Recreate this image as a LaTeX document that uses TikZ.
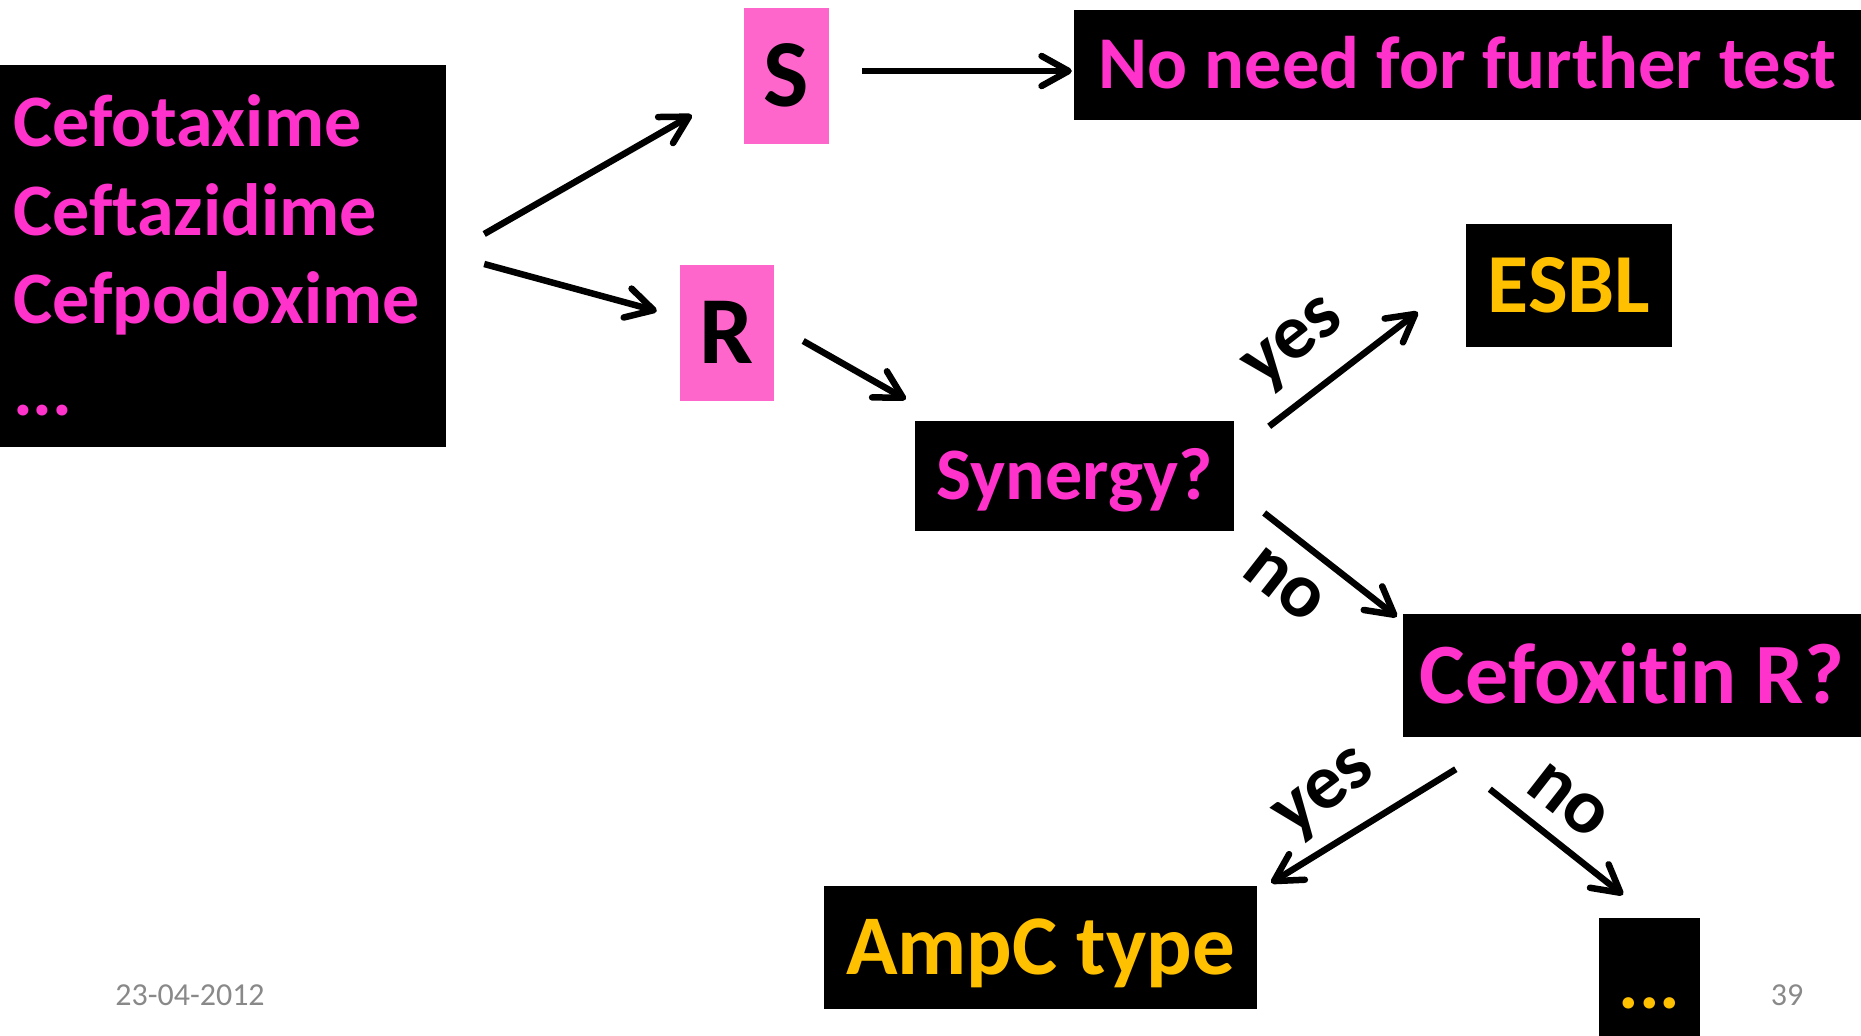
\documentclass[tikz,border=0pt]{standalone}
\usepackage{fontspec}
\setmainfont{Carlito}[Ligatures=NoCommon]
\usetikzlibrary{arrows.meta,calc}
\definecolor{mag}{HTML}{FF33CC}
\definecolor{pinkfill}{HTML}{FF66CC}
\definecolor{gold}{HTML}{FFC000}
\definecolor{foot}{HTML}{898989}
\tikzset{
  blackbox/.style={fill=black, inner sep=0pt, text depth=0pt},
  pinkbox/.style={fill=pinkfill, inner sep=0pt, text depth=0pt, text=black, font=\bfseries\fontsize{96}{100}\selectfont, text height=61pt},
  listline/.style={anchor=base west, inner sep=0pt, text=mag, font=\bfseries\fontsize{74}{80}\selectfont},
  arr/.style={line width=6.5pt, -{Straight Barb[length=27pt,width=30pt,round]}},
  lbl/.style={font=\bfseries\fontsize{78}{80}\selectfont, inner sep=0pt},
  footer/.style={text=foot, font=\fontsize{32}{34}\selectfont, inner sep=0pt}
}
\begin{document}
\begin{tikzpicture}[x=1pt,y=-1pt]
\useasboundingbox (0,0) rectangle (1861,1036);
% boxes
\node[blackbox, minimum width=446pt, minimum height=382pt] (main) at (223,256) {};
\node[listline] (l1) at (13,146) {Cefotaxime};
\node[listline] (l2) at (13,235) {Ceftazidime};
\node[listline] (l3) at (13,323) {Cefpodoxime};
\node[listline] (l4) at (13,415) {...};

\node[pinkbox, minimum width=85pt, minimum height=136pt] (S) at (786.5,76) {S};
\node[pinkbox, minimum width=94pt, minimum height=136pt] (R) at (727,333) {R};

\node[blackbox, text=mag, font=\bfseries\fontsize{74.5}{80}\selectfont, text height=47pt, minimum width=787pt, minimum height=110pt] (noneed) at (1467.5,65) {No need for further test};
\node[blackbox, text=mag, font=\bfseries\fontsize{74}{80}\selectfont, text height=47pt, minimum width=319pt, minimum height=110pt] (syn) at (1074.5,475.5) {Synergy?};
\node[blackbox, text=gold, font=\bfseries\fontsize{84}{88}\selectfont, text height=53pt, minimum width=206pt, minimum height=123pt] (esbl) at (1569,285.5) {ESBL};
\node[blackbox, text=mag, font=\bfseries\fontsize{86}{90}\selectfont, text height=55pt, minimum width=458pt, minimum height=123pt] (cefox) at (1632,675.5) {Cefoxitin R?};
\node[blackbox, text=gold, font=\bfseries\fontsize{85}{88}\selectfont, text height=54pt, minimum width=433pt, minimum height=123pt] (ampc) at (1040.5,947.5) {AmpC type};
\node[blackbox, text=gold, font=\bfseries\fontsize{77}{80}\selectfont, text height=62pt, minimum width=101pt, minimum height=118pt] (dots) at (1649.5,977) {...};

% arrows
\draw[arr] ($(main.east)+(38,-22)$) -- ($(S.west)+(-52,39)$);
\draw[arr] ($(main.east)+(38,8)$) -- ($(R.west)+(-23,-22)$);
\draw[arr] ($(R.east)+(29,8)$) -- ($(syn.north west)+(-9,-21)$);
\draw[arr] ($(S.east)+(33,-5)$) -- ($(noneed.west)+(-2,6)$);
\draw[arr] ($(syn.north east)+(35,6)$) -- ($(esbl.west)+(-48,26.5)$);
\draw[arr] ($(syn.east)+(30,37.5)$) -- ($(cefox.north west)+(-6,3)$);
\draw[arr] ($(cefox.south west)+(53,32)$) -- ($(ampc.north east)+(14,-3)$);
\draw[arr] ($(cefox.south west)+(87,52)$) -- ($(dots.north)+(-26.5,-23)$);

% labels
\node[lbl, rotate=38] (yes1) at (1296,346) {yes};
\node[lbl, rotate=-38] (no1) at (1284,585) {no};
\node[lbl, rotate=37] (yes2) at (1327,796) {yes};
\node[lbl, rotate=-38] (no2) at (1568,801) {no};

% footer
\node[footer] (date) at (190,995) {23-04-2012};
\node[footer] (page) at (1787,995) {39};
\end{tikzpicture}
\end{document}
